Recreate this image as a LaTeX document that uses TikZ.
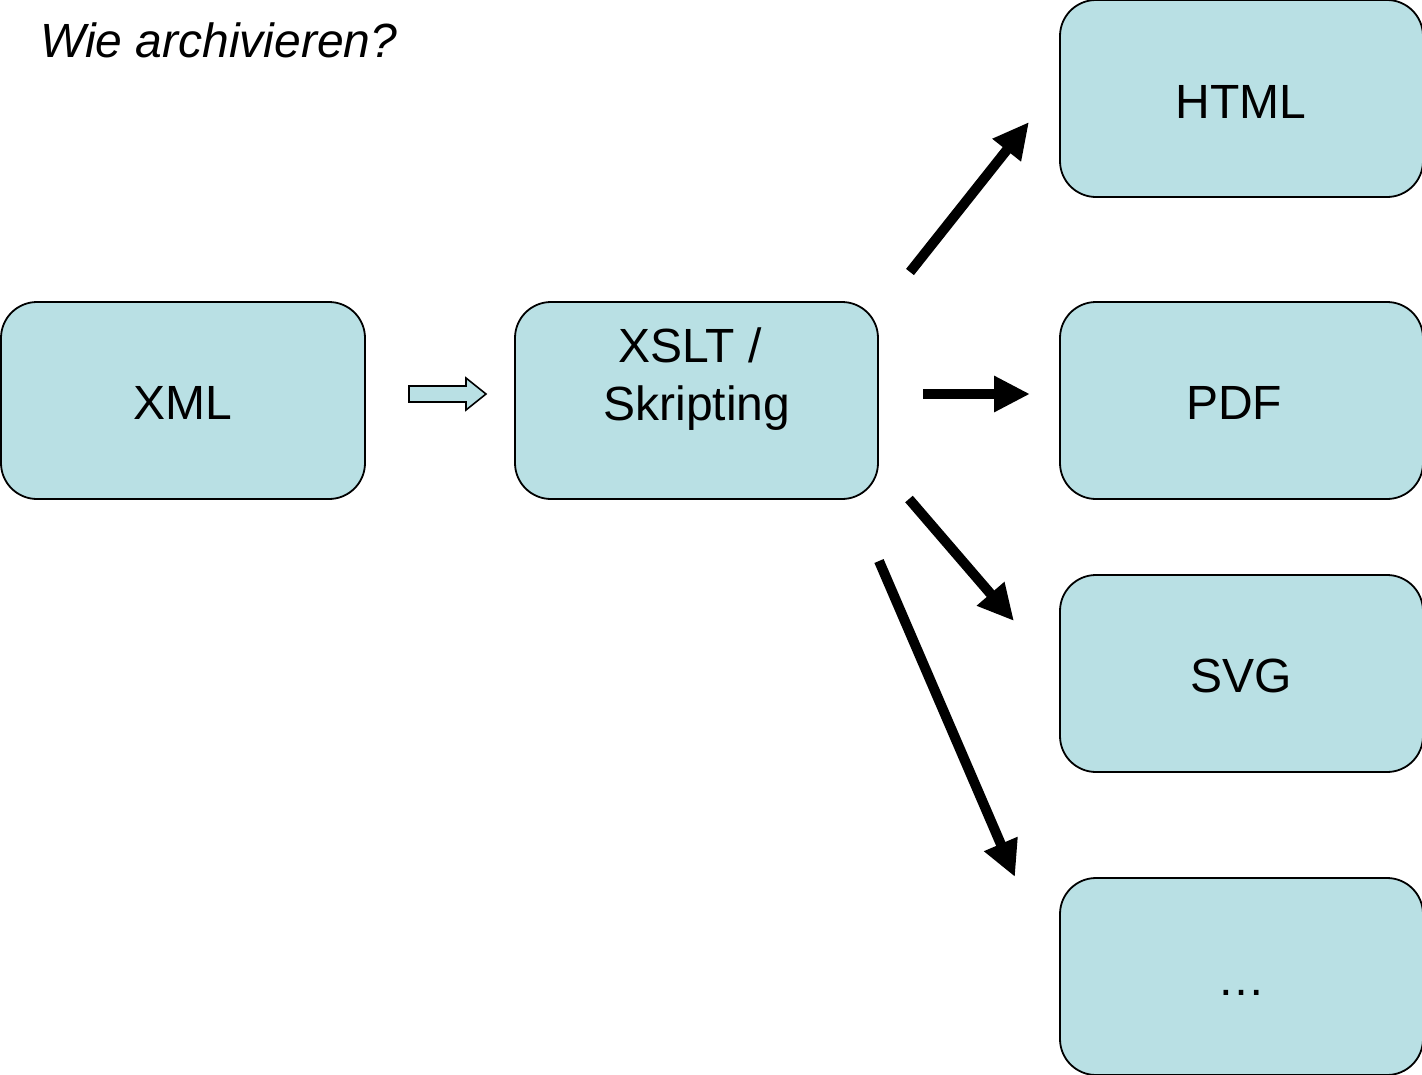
\documentclass[tikz,border=0pt]{standalone}
\usepackage{fontspec}
\setmainfont{Liberation Sans}
\usetikzlibrary{arrows.meta}
\definecolor{boxfill}{RGB}{185,224,228}
\tikzset{
  box/.style={draw=black, line width=1.8pt, fill=boxfill, rounded corners=36pt},
  lbl/.style={anchor=base, inner sep=0pt, font=\fontsize{48}{57}\selectfont},
  fatarrow/.style={line width=10pt, -{Triangle[length=36pt,width=34pt]}},
}
\begin{document}
\begin{tikzpicture}[x=1pt,y=-1pt]
\useasboundingbox (0,0) rectangle (1422,1074);
% boxes
\draw[box] (1,302) rectangle (365,499);
\draw[box] (515,302) rectangle (878,499);
\draw[box] (1060,0) rectangle (1423,197);
\draw[box] (1060,302) rectangle (1423,499);
\draw[box] (1060,575) rectangle (1423,772);
\draw[box] (1060,878) rectangle (1423,1075);
% labels
\node[lbl, font=\fontsize{48}{57}\selectfont\itshape, anchor=base west] (title) at (40,57) {Wie archivieren?};
\node[lbl] (xml) at (183,419) {XML};
\node[lbl] (xslt1) at (690,362) {XSLT /};
\node[lbl] (xslt2) at (697,420) {Skripting};
\node[lbl] (html) at (1241,118) {HTML};
\node[lbl] (pdf) at (1234,419) {PDF};
\node[lbl] (svg) at (1241,692) {SVG};
\node[lbl] (more) at (1241,995) {\ldots};
% hollow arrow
\draw[line width=1.6pt, fill=boxfill, line join=miter]
  (409,386) -- (466,386) -- (466,378) -- (486,394) -- (466,410) -- (466,402) -- (409,402) -- cycle;
% fat arrows
\coordinate (h0) at (910,272); \coordinate (h1) at (1029,122);
\coordinate (p0) at (923,394); \coordinate (p1) at (1030,394);
\coordinate (s0) at (909,499); \coordinate (s1) at (1014,621);
\coordinate (m0) at (879,561); \coordinate (m1) at (1015,877);
\draw[fatarrow] (h0) -- (h1);
\draw[fatarrow] (p0) -- (p1);
\draw[fatarrow] (s0) -- (s1);
\draw[fatarrow] (m0) -- (m1);
\end{tikzpicture}
\end{document}
